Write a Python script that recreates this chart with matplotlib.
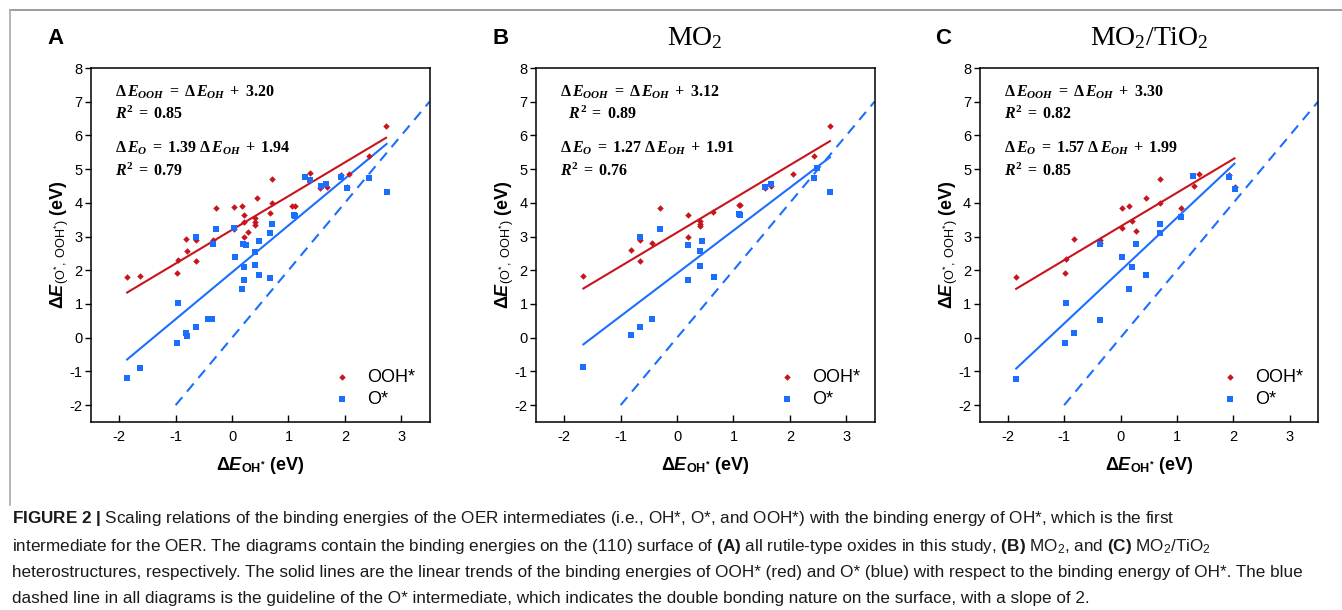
import numpy as np
import matplotlib
matplotlib.use('Agg')
from matplotlib import pyplot as plt
from matplotlib.lines import Line2D

#--- fonts: equations in bold serif, labels in bold sans ---
plt.rcParams['font.family'] = ['Liberation Sans', 'DejaVu Sans']
plt.rcParams['axes.unicode_minus'] = False
plt.rcParams['mathtext.fontset'] = 'custom'
plt.rcParams['mathtext.rm'] = 'Liberation Serif:bold'
plt.rcParams['mathtext.it'] = 'Liberation Serif:italic:bold'
plt.rcParams['mathtext.bf'] = 'Liberation Sans:bold'
plt.rcParams['mathtext.sf'] = 'Liberation Sans:italic:bold'
plt.rcParams['mathtext.tt'] = 'Liberation Sans'
plt.rcParams['mathtext.cal'] = 'Liberation Serif'

#--- data ---
panel_letters = ['A', 'B', 'C']
panel_titles = ['', r'MO$_{\mathcal{2}}$', r'MO$_{\mathcal{2}}$/TiO$_{\mathcal{2}}$']

ooh_x_A = [-1.86, -1.63, -0.98, -0.95, -0.82, -0.79, -0.63, -0.63, -0.35, -0.33, -0.28, 0.03, 0.04, 0.17,
           0.22, 0.22, 0.22, 0.28, 0.45, 0.41, 0.41, 0.41, 0.71, 0.71, 0.68, 1.06, 1.12, 1.39, 1.56, 1.68,
           1.93, 2.04, 2.07, 2.42, 2.73]
ooh_y_A = [1.79, 1.82, 1.93, 2.30, 2.93, 2.58, 2.90, 2.28, 2.80, 2.90, 3.84, 3.89, 3.21, 3.91,
           3.64, 3.44, 3.00, 3.14, 4.14, 3.56, 3.42, 3.33, 4.71, 3.99, 3.71, 3.92, 3.92, 4.88, 4.45, 4.48,
           4.83, 4.46, 4.85, 5.38, 6.28]
o_x_A = [-1.86, -1.63, -0.98, -0.95, -0.82, -0.79, -0.63, -0.42, -0.36, -0.63, -0.33, -0.28, 0.03, 0.06,
         0.20, 0.25, 0.22, 0.22, 0.17, 0.41, 0.47, 0.47, 0.41, 0.71, 0.68, 0.68, 1.09, 1.12, 1.30, 1.39,
         1.57, 1.67, 1.93, 2.04, 2.43, 2.74]
o_y_A = [-1.20, -0.89, -0.16, 1.04, 0.13, 0.05, 0.33, 0.55, 0.55, 2.98, 2.77, 3.22, 3.24, 2.40,
         2.78, 2.74, 2.11, 1.71, 1.44, 2.15, 1.86, 2.87, 2.55, 3.36, 3.10, 1.78, 3.64, 3.62, 4.78, 4.68,
         4.50, 4.55, 4.78, 4.43, 4.73, 4.32]

ooh_x_B = [-1.66, -0.82, -0.66, -0.66, -0.44, -0.30, 0.20, 0.20, 0.41, 0.41, 0.41, 0.64, 1.09, 1.12,
           1.56, 1.66, 2.05, 2.43, 2.71]
ooh_y_B = [1.82, 2.59, 2.90, 2.29, 2.81, 3.85, 3.65, 3.00, 3.47, 3.38, 3.32, 3.74, 3.94, 3.94,
           4.44, 4.49, 4.85, 5.38, 6.29]
o_x_B = [-1.66, -0.82, -0.66, -0.44, -0.66, -0.30, 0.20, 0.20, 0.45, 0.41, 0.41, 0.66, 1.09, 1.12,
         1.56, 1.66, 2.43, 2.48, 2.71]
o_y_B = [-0.88, 0.07, 0.33, 0.55, 2.98, 3.23, 2.76, 1.72, 2.87, 2.56, 2.13, 1.80, 3.68, 3.64,
         4.47, 4.55, 4.75, 5.02, 4.32]

ooh_x_C = [-1.85, -0.99, -0.96, -0.82, -0.37, -0.36, 0.02, 0.03, 0.15, 0.21, 0.27, 0.46, 0.70, 0.70,
           1.08, 1.30, 1.39, 1.92, 2.02]
ooh_y_C = [1.79, 1.93, 2.32, 2.92, 2.90, 2.80, 3.85, 3.24, 3.91, 3.46, 3.16, 4.13, 4.70, 3.99,
           3.85, 4.50, 4.85, 4.82, 4.46]
o_x_C = [-1.85, -0.97, -0.99, -0.82, -0.36, -0.36, 0.03, 0.21, 0.15, 0.27, 0.46, 0.70, 0.70, 1.08,
         1.28, 1.92, 2.02]
o_y_C = [-1.21, 1.04, -0.15, 0.13, 0.54, 2.78, 2.40, 2.09, 1.44, 2.77, 1.86, 3.36, 3.10, 3.59,
         4.80, 4.76, 4.40]

# fitted trends: slope, intercept, R^2
ooh_fit = [(1.00, 3.20, 0.85), (1.00, 3.12, 0.89), (1.00, 3.30, 0.82)]
o_fit = [(1.39, 1.94, 0.79), (1.27, 1.91, 0.76), (1.57, 1.99, 0.85)]
guide_slope = 2.0
guide_x = [-1.0, 3.5]

ooh_x = [ooh_x_A, ooh_x_B, ooh_x_C] ; ooh_y = [ooh_y_A, ooh_y_B, ooh_y_C]
o_x = [o_x_A, o_x_B, o_x_C] ; o_y = [o_y_A, o_y_B, o_y_C]

red = '#c8141c'
blue = '#1a6fff'

fig = plt.figure(figsize=(13.42, 6.10), dpi=100)

# frame around the figure block (top + left)
fig.add_artist(Line2D([10/1342, 1.0], [1-10/610, 1-10/610], color='#8c8c8c', lw=1.2))
fig.add_artist(Line2D([10/1342, 10/1342], [1-10/610, 1-505/610], color='#a8a8a8', lw=1.2))

lefts = [91/1342, 536/1342, 979.5/1342]
title_cx = [0, 695/1342, 1149/1342]
for i in range(3):
    ax = fig.add_axes([lefts[i], 1-422/610, 338.5/1342, 354/610])
    ax.scatter(ooh_x[i], ooh_y[i], s=11, marker='D', color=red, lw=0, label='OOH*', zorder=3)
    ax.scatter(o_x[i], o_y[i], s=13, marker='s', color=blue, lw=0, label='O*', zorder=3)

    xx = np.array([min(ooh_x[i]), max(ooh_x[i])])
    ax.plot(xx, ooh_fit[i][0]*xx + ooh_fit[i][1], color=red, lw=1.5)
    xx = np.array([min(o_x[i]), max(o_x[i])])
    ax.plot(xx, o_fit[i][0]*xx + o_fit[i][1], color=blue, lw=1.5)
    gx = np.array(guide_x)
    ax.plot(gx, guide_slope*gx, color=blue, lw=1.5, ls=(0, (5, 3.5)))

    ax.set_xlim(-2.5, 3.5)
    ax.set_ylim(-2.5, 8)
    ax.set_xticks(range(-2, 4))
    ax.set_yticks(range(-2, 9))
    ax.tick_params(axis='x', direction='in', length=5, width=1, labelsize=10.5, pad=6)
    ax.tick_params(axis='y', direction='out', length=4, width=1, labelsize=10.5, pad=2)
    for sp in ax.spines.values():
        sp.set_linewidth(1.1)

    ax.set_xlabel(r'Δ$\mathsf{E}_{\mathbf{OH^{*}}}$ (eV)', fontsize=13, fontweight='bold', labelpad=8)
    ax.set_ylabel(r'Δ$\mathsf{E}_{\mathtt{(O^{*},\ OOH^{*})}}$ (eV)', fontsize=13, fontweight='bold', labelpad=-1)

    a, b, r2 = ooh_fit[i]
    ax.text(-2.07, 7.29, r'$\Delta\,E_{OOH}\;=\;\Delta\,E_{OH}\;+\;%.2f$' % b, fontsize=11.5, va='center')
    ind = r'\ \ ' if i == 1 else ''
    ax.text(-2.07, 6.66, r'$%sR^2\;=\;%.2f$' % (ind, r2), fontsize=11.5, va='center')
    a, b, r2 = o_fit[i]
    ax.text(-2.07, 5.63, r'$\Delta\,E_{O}\;=\;%.2f\ \Delta\,E_{OH}\;+\;%.2f$' % (a, b), fontsize=11.5, va='center')
    ax.text(-2.07, 4.97, r'$R^2\;=\;%.2f$' % r2, fontsize=11.5, va='center')

    ax.legend(loc='lower right', frameon=False, fontsize=13, handlelength=1.0, handletextpad=0.9,
              borderaxespad=0.4, labelspacing=0.25)

    fig.text(lefts[i] - 44/1342, 1-39/610, panel_letters[i], fontsize=16, fontweight='bold', va='center')
    if panel_titles[i]:
        fig.text(title_cx[i], 1-38/610, panel_titles[i], fontsize=20,
                 family='Liberation Serif', ha='center', va='center')

# caption
cap = [r'$\mathbf{FIGURE\ 2\ |}$ Scaling relations of the binding energies of the OER intermediates (i.e., OH*, O*, and OOH*) with the binding energy of OH*, which is the first',
       r'intermediate for the OER. The diagrams contain the binding energies on the (110) surface of $\mathbf{(A)}$ all rutile-type oxides in this study, $\mathbf{(B)}$ MO$_{\mathtt{2}}$, and $\mathbf{(C)}$ MO$_{\mathtt{2}}$/TiO$_{\mathtt{2}}$',
       'heterostructures, respectively. The solid lines are the linear trends of the binding energies of OOH* (red) and O* (blue) with respect to the binding energy of OH*. The blue',
       'dashed line in all diagrams is the guideline of the O* intermediate, which indicates the double bonding nature on the surface, with a slope of 2.']
cap_y = [519, 547, 573, 599]
for k in range(4):
    fig.text(12/1342, 1-cap_y[k]/610, cap[k], fontsize=12.3, va='center',
             family=['Liberation Sans Narrow', 'Liberation Sans'], color='#1a1a1a')

fig.savefig('out.png', dpi=100)
